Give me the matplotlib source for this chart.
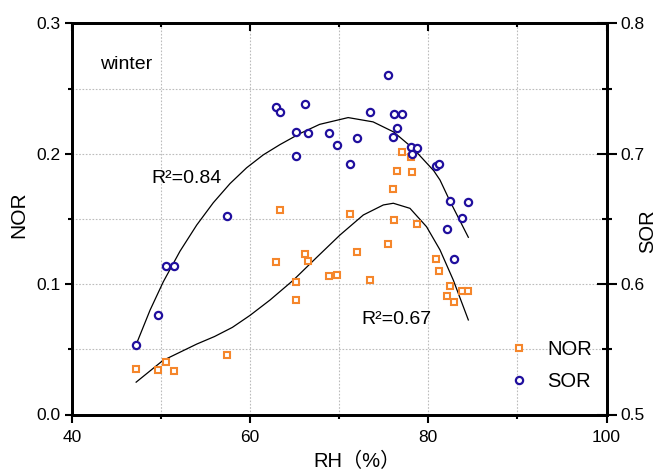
import numpy as np
import matplotlib
matplotlib.use("Agg")
import matplotlib.pyplot as plt
from matplotlib.ticker import MultipleLocator

plt.rcParams['font.family'] = ['Liberation Sans', 'Noto Sans CJK SC']

# scatter data (RH %, NOR, SOR)
rh = [47.2, 49.6, 50.5, 51.5, 57.4, 62.9, 63.4, 65.1, 65.2, 66.2, 66.5,
      68.85, 69.8, 71.2, 72.0, 73.5, 75.5, 76.0, 76.2, 76.5, 77.0, 78.1,
      78.2, 78.7, 80.9, 81.25, 82.1, 82.4, 82.9, 83.8, 84.5]
nor = [0.035, 0.034, 0.040, 0.033, 0.046, 0.117, 0.157, 0.1015, 0.0875, 0.123, 0.118,
       0.106, 0.107, 0.154, 0.1245, 0.103, 0.131, 0.173, 0.149, 0.187, 0.201, 0.1975,
       0.186, 0.146, 0.1195, 0.110, 0.091, 0.0985, 0.086, 0.095, 0.0946]
sor = [0.553, 0.576, 0.614, 0.614, 0.652, 0.736, 0.732, 0.717, 0.698, 0.738, 0.716,
       0.716, 0.707, 0.692, 0.712, 0.732, 0.760, 0.713, 0.7305, 0.720, 0.7305, 0.705,
       0.700, 0.704, 0.6906, 0.692, 0.642, 0.664, 0.619, 0.651, 0.663]

# fitted curves
sor_fit_x = [47.26, 48.76, 50.25, 52.12, 54.0, 55.86, 57.74, 59.6, 61.47, 63.35,
             65.6, 67.8, 71.0, 73.8, 76.1, 78.3, 80.6, 81.31, 82.4, 84.49]
sor_fit_y = [0.5546, 0.580, 0.6018, 0.6252, 0.6453, 0.6624, 0.6771, 0.6892, 0.6991, 0.707,
             0.7155, 0.7225, 0.7277, 0.7244, 0.7167, 0.704, 0.687, 0.6798, 0.664, 0.6359]
nor_fit_x = [47.2, 50.2, 54.0, 56.0, 58.0, 59.98, 62.23, 64.84, 67.47, 70.09, 72.7,
             74.95, 76.07, 77.94, 79.8, 81.31, 82.8, 84.49]
nor_fit_y = [0.0248, 0.0414, 0.0540, 0.0598, 0.0668, 0.0760, 0.0878, 0.1030, 0.1205, 0.1377,
             0.153, 0.1607, 0.162, 0.1581, 0.144, 0.1262, 0.1031, 0.0725]

orange = '#f5862b'
blue = '#200f9e'

fig = plt.figure(figsize=(6.59, 4.71), dpi=100)
ax = fig.add_axes([72 / 659, 1 - 414.5 / 471, 534.5 / 659, 391.2 / 471])
ax2 = ax.twinx()

ax.set_xlim(40, 100)
ax.set_ylim(0, 0.3)
ax2.set_ylim(0.5, 0.8)

# grid on major + minor positions
ax.xaxis.set_major_locator(MultipleLocator(20))
ax.xaxis.set_minor_locator(MultipleLocator(10))
ax.yaxis.set_major_locator(MultipleLocator(0.1))
ax.yaxis.set_minor_locator(MultipleLocator(0.05))
ax2.yaxis.set_major_locator(MultipleLocator(0.1))
ax2.yaxis.set_minor_locator(MultipleLocator(0.05))
ax.grid(True, which='both', color='#bcbcbc', linestyle=(0, (1.5, 1.5)), linewidth=0.8)
ax.set_axisbelow(True)

# scatter
ln1, = ax.plot(rh, nor, 's', ms=4.8, mfc='white', mec=orange, mew=1.5, label='NOR', zorder=3)
ln2, = ax2.plot(rh, sor, 'o', ms=5.2, mfc='white', mec=blue, mew=1.6, label='SOR', zorder=3)
ax.plot(nor_fit_x, nor_fit_y, color='black', lw=0.9, zorder=2)
ax2.plot(sor_fit_x, sor_fit_y, color='black', lw=0.9, zorder=2)

ax.yaxis.set_major_formatter(plt.FormatStrFormatter('%.1f'))
ax2.yaxis.set_major_formatter(plt.FormatStrFormatter('%.1f'))

for a in (ax, ax2):
    for s in a.spines.values():
        s.set_linewidth(2.0)

ax.tick_params(axis='x', which='major', direction='out', length=6, width=1.5, labelsize=12.5,
               top=False, pad=5)
ax.tick_params(axis='x', which='minor', direction='out', length=3, width=1.5, top=False)
ax.tick_params(axis='y', which='major', direction='out', length=5, width=1.5, labelsize=12.5,
               right=False, pad=3)
ax.tick_params(axis='y', which='minor', direction='out', length=3, width=1.5, right=False)

# top ticks pointing in, drawn from the twin axes
ax2.xaxis.set_visible(True)
ax2.tick_params(axis='x', which='both', direction='in', top=True, bottom=False,
                labeltop=False, labelbottom=False, width=1.5)
ax2.tick_params(axis='x', which='major', length=6)
ax2.tick_params(axis='x', which='minor', length=3)
ax2.tick_params(axis='y', which='major', direction='inout', length=14, width=1.5,
                labelsize=12.5, pad=3)
ax2.tick_params(axis='y', which='minor', direction='inout', length=7, width=1.5)

# axis labels placed explicitly
ax.set_xlabel('RH（%）', fontsize=14.5)
ax.xaxis.set_label_coords(0.534, -0.1342)
ax.xaxis.label.set_verticalalignment('baseline')
ax.set_ylabel('NOR', fontsize=15)
ax.yaxis.set_label_coords(-0.0823, 0.51)
ax2.set_ylabel('SOR', fontsize=14.5)
ax2.yaxis.set_label_coords(1.0595, 0.468)

ax.text(43.14, 0.2647, 'winter', fontsize=14, va='baseline')
ax.text(48.87, 0.1773, 'R²=0.84', fontsize=14, va='baseline')
ax.text(72.52, 0.0694, 'R²=0.67', fontsize=14, va='baseline')

ax2.legend(handles=[ln1, ln2], loc='upper left', bbox_to_anchor=(0.8176, 0.1894),
           frameon=False, borderpad=0, borderaxespad=0, handlelength=1.0,
           handletextpad=0.9, labelspacing=0.65, fontsize=14.5)

fig.savefig('out.png', dpi=100)
